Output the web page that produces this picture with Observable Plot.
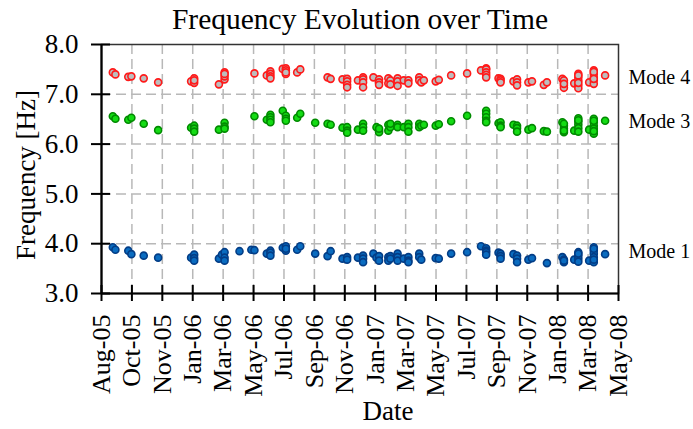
<!DOCTYPE html>
<html>
<head>
<meta charset="utf-8">
<script src="https://cdn.jsdelivr.net/npm/d3@7"></script>
<script src="https://cdn.jsdelivr.net/npm/@observablehq/plot@0.6"></script>
<style>
  html, body { margin: 0; padding: 0; background: #fff; }
  #chart svg { display: block; }
</style>
</head>
<body>
<div id="chart"></div>
<script>
// ---- Data ----
const xStart = "2005-08-01";
const xEnd = "2008-05-01";
const xTickLabels = ["Aug-05","Oct-05","Nov-05","Jan-06","Mar-06","May-06","Jul-06","Sep-06","Nov-06",
  "Jan-07","Mar-07","May-07","Jul-07","Sep-07","Nov-07","Jan-08","Mar-08","May-08"];
const yTicks = [3, 4, 5, 6, 7, 8];
const modeNames = ["Mode 4", "Mode 3", "Mode 1"];
const modeLabelValues = [7.34, 6.45, 3.84];

const mode4 = [
  ["2005-08-23",7.44],["2005-08-28",7.40],["2005-09-22",7.35],["2005-09-28",7.36],["2005-10-22",7.32],["2005-11-19",7.24],
  ["2006-01-22",7.26],["2006-01-28",7.32],["2006-01-28",7.23],["2006-01-28",7.28],
  ["2006-03-17",7.20],["2006-03-28",7.30],["2006-03-28",7.36],["2006-03-28",7.44],["2006-03-28",7.41],
  ["2006-05-25",7.42],
  ["2006-06-18",7.38],["2006-06-25",7.46],["2006-06-25",7.41],["2006-06-25",7.36],["2006-06-25",7.32],
  ["2006-07-19",7.51],["2006-07-25",7.52],["2006-07-25",7.48],["2006-07-25",7.41],["2006-07-25",7.44],
  ["2006-08-16",7.44],["2006-08-22",7.50],
  ["2006-10-14",7.34],["2006-10-20",7.31],
  ["2006-11-12",7.30],["2006-11-21",7.31],["2006-11-21",7.26],["2006-11-21",7.19],["2006-11-21",7.14],
  ["2006-12-12",7.28],["2006-12-22",7.34],["2006-12-22",7.30],["2006-12-22",7.24],["2006-12-22",7.14],
  ["2007-01-11",7.34],["2007-01-22",7.30],["2007-01-22",7.24],["2007-01-22",7.19],
  ["2007-02-09",7.32],["2007-02-09",7.22],["2007-02-13",7.28],["2007-02-13",7.20],
  ["2007-02-27",7.32],["2007-02-27",7.26],["2007-02-27",7.17],
  ["2007-03-11",7.28],["2007-03-20",7.28],["2007-03-20",7.22],
  ["2007-04-10",7.34],["2007-04-10",7.28],["2007-04-14",7.24],["2007-04-19",7.28],
  ["2007-05-12",7.26],["2007-05-18",7.29],["2007-06-11",7.38],["2007-07-12",7.42],
  ["2007-08-08",7.48],["2007-08-18",7.52],["2007-08-18",7.50],["2007-08-18",7.44],["2007-08-18",7.39],["2007-08-18",7.34],
  ["2007-09-11",7.32],["2007-09-15",7.31],["2007-09-15",7.28],["2007-09-15",7.24],
  ["2007-10-10",7.26],["2007-10-17",7.30],["2007-10-17",7.24],["2007-10-17",7.18],
  ["2007-11-08",7.24],["2007-11-15",7.26],
  ["2007-12-08",7.19],["2007-12-14",7.24],
  ["2008-01-13",7.31],["2008-01-16",7.24],["2008-01-16",7.18],["2008-01-16",7.13],["2008-01-16",7.28],["2008-01-16",7.21],
  ["2008-02-05",7.22],["2008-02-13",7.41],["2008-02-13",7.34],["2008-02-13",7.28],["2008-02-13",7.18],["2008-02-13",7.12],["2008-02-13",7.38],["2008-02-13",7.23],
  ["2008-03-05",7.24],["2008-03-14",7.48],["2008-03-14",7.41],["2008-03-14",7.34],["2008-03-14",7.28],["2008-03-14",7.21],["2008-03-14",7.45],["2008-03-14",7.31],
  ["2008-04-05",7.38]
];

const mode3 = [
  ["2005-08-23",6.56],["2005-08-28",6.51],["2005-09-22",6.49],["2005-09-28",6.53],["2005-10-22",6.41],["2005-11-19",6.28],
  ["2006-01-22",6.33],["2006-01-28",6.37],["2006-01-28",6.31],["2006-01-28",6.25],
  ["2006-03-17",6.29],["2006-03-28",6.43],["2006-03-28",6.35],["2006-03-28",6.31],
  ["2006-05-25",6.56],
  ["2006-06-18",6.49],["2006-06-25",6.59],["2006-06-25",6.54],["2006-06-25",6.49],["2006-06-25",6.44],
  ["2006-07-19",6.67],["2006-07-25",6.57],["2006-07-25",6.51],["2006-07-25",6.47],
  ["2006-08-16",6.53],["2006-08-22",6.61],
  ["2006-09-20",6.43],
  ["2006-10-14",6.41],["2006-10-20",6.39],
  ["2006-11-12",6.33],["2006-11-21",6.34],["2006-11-21",6.27],["2006-11-21",6.23],
  ["2006-12-12",6.29],["2006-12-22",6.41],["2006-12-22",6.34],["2006-12-22",6.27],
  ["2007-01-17",6.34],["2007-01-22",6.27],["2007-01-22",6.24],["2007-01-22",6.31],
  ["2007-02-09",6.39],["2007-02-09",6.27],["2007-02-13",6.34],["2007-02-13",6.41],
  ["2007-02-27",6.39],["2007-02-27",6.34],
  ["2007-03-11",6.34],["2007-03-20",6.41],["2007-03-20",6.34],["2007-03-20",6.25],
  ["2007-04-10",6.41],["2007-04-10",6.34],["2007-04-14",6.37],["2007-04-19",6.39],
  ["2007-05-12",6.37],["2007-05-18",6.40],["2007-06-11",6.46],["2007-07-12",6.57],
  ["2007-08-18",6.67],["2007-08-18",6.61],["2007-08-18",6.54],["2007-08-18",6.47],["2007-08-18",6.44],
  ["2007-09-11",6.42],["2007-09-15",6.44],["2007-09-15",6.37],["2007-09-15",6.34],
  ["2007-10-10",6.39],["2007-10-17",6.37],["2007-10-17",6.32],["2007-10-17",6.25],
  ["2007-11-08",6.29],["2007-11-15",6.32],
  ["2007-12-08",6.26],["2007-12-14",6.25],
  ["2008-01-13",6.44],["2008-01-16",6.37],["2008-01-16",6.31],["2008-01-16",6.24],["2008-01-16",6.41],["2008-01-16",6.27],
  ["2008-02-05",6.27],["2008-02-13",6.52],["2008-02-13",6.45],["2008-02-13",6.39],["2008-02-13",6.32],["2008-02-13",6.25],["2008-02-13",6.48],
  ["2008-03-05",6.29],["2008-03-14",6.51],["2008-03-14",6.44],["2008-03-14",6.37],["2008-03-14",6.31],["2008-03-14",6.21],["2008-03-14",6.47],["2008-03-14",6.26],
  ["2008-04-05",6.47]
];

const mode1 = [
  ["2005-08-23",3.93],["2005-08-28",3.88],["2005-09-22",3.86],["2005-09-28",3.79],["2005-10-22",3.76],["2005-11-19",3.72],
  ["2006-01-22",3.72],["2006-01-28",3.78],["2006-01-28",3.71],["2006-01-28",3.66],
  ["2006-03-17",3.70],["2006-03-23",3.78],["2006-03-28",3.83],["2006-03-28",3.72],["2006-03-28",3.66],
  ["2006-04-26",3.85],["2006-05-19",3.88],["2006-05-25",3.87],
  ["2006-06-18",3.80],["2006-06-25",3.86],["2006-06-25",3.82],["2006-06-25",3.76],
  ["2006-07-19",3.92],["2006-07-25",3.95],["2006-07-25",3.86],["2006-07-25",3.90],
  ["2006-08-16",3.88],["2006-08-22",3.95],
  ["2006-09-20",3.80],
  ["2006-10-14",3.75],["2006-10-20",3.85],
  ["2006-11-12",3.70],["2006-11-21",3.73],["2006-11-21",3.68],
  ["2006-12-12",3.72],["2006-12-22",3.76],["2006-12-22",3.70],["2006-12-22",3.63],
  ["2007-01-11",3.80],["2007-01-17",3.72],["2007-01-22",3.75],["2007-01-22",3.66],
  ["2007-02-09",3.73],["2007-02-09",3.66],["2007-02-13",3.75],["2007-02-13",3.70],
  ["2007-02-27",3.80],["2007-02-27",3.73],["2007-02-27",3.66],
  ["2007-03-11",3.70],["2007-03-20",3.73],["2007-03-20",3.66],["2007-03-20",3.63],
  ["2007-04-10",3.80],["2007-04-10",3.73],["2007-04-14",3.68],
  ["2007-05-12",3.71],["2007-05-18",3.70],["2007-06-11",3.80],["2007-07-12",3.83],
  ["2007-08-08",3.95],["2007-08-18",3.91],["2007-08-18",3.86],["2007-08-18",3.83],["2007-08-18",3.78],
  ["2007-09-11",3.82],["2007-09-15",3.80],["2007-09-15",3.75],["2007-09-15",3.70],
  ["2007-10-10",3.79],["2007-10-17",3.76],["2007-10-17",3.70],["2007-10-17",3.63],
  ["2007-11-08",3.68],["2007-11-15",3.71],
  ["2007-12-14",3.61],
  ["2008-01-13",3.73],["2008-01-16",3.68],["2008-01-16",3.63],["2008-01-16",3.66],
  ["2008-02-05",3.68],["2008-02-13",3.83],["2008-02-13",3.76],["2008-02-13",3.70],["2008-02-13",3.64],["2008-02-13",3.80],
  ["2008-03-05",3.66],["2008-03-14",3.93],["2008-03-14",3.86],["2008-03-14",3.80],["2008-03-14",3.73],["2008-03-14",3.63],["2008-03-14",3.90],["2008-03-14",3.68],
  ["2008-04-05",3.79]
];

// ---- Build ----
const parse = d3.utcParse("%Y-%m-%d");
const t0 = parse(xStart), t1 = parse(xEnd);
const xTicks = xTickLabels.map((_, i) => new Date(+t0 + i * (t1 - t0) / (xTickLabels.length - 1)));
const labelByTime = new Map(xTicks.map((d, i) => [+d, xTickLabels[i]]));
const toRows = (arr) => arr.map(([d, v]) => ({date: parse(d), value: v}));
const rows4 = toRows(mode4), rows3 = toRows(mode3), rows1 = toRows(mode1);

const W = 693, H = 429;
const mL = 101, mR = 75, mT = 44, mB = 136;
const innerW = W - mL - mR, innerH = H - mT - mB;
const FONT = "'Liberation Serif', 'Times New Roman', serif";
const gridStyle = {stroke: "#b8b8b8", strokeOpacity: 1, strokeWidth: 1.5, strokeDasharray: "10,5"};

const chart = Plot.plot({
  width: W,
  height: H,
  marginLeft: mL, marginRight: mR, marginTop: mT, marginBottom: mB,
  style: {fontFamily: FONT, fontSize: "27px", background: "#fff", color: "#000"},
  x: {type: "utc", domain: [t0, t1]},
  y: {domain: [3, 8]},
  marks: [
    Plot.gridX(xTicks.slice(1, -1), gridStyle),
    Plot.gridY(yTicks.slice(1, -1), gridStyle),
    Plot.frame({stroke: "#333", strokeWidth: 1.5}),
    Plot.ruleX([t0], {stroke: "#000", strokeWidth: 2.2}),
    Plot.ruleY([3], {stroke: "#000", strokeWidth: 2.2}),
    // crossing tick marks
    Plot.ruleX(xTicks, {stroke: "#000", strokeWidth: 2, insetTop: innerH - 8, insetBottom: -8}),
    Plot.ruleY(yTicks, {stroke: "#000", strokeWidth: 2, insetLeft: -10, insetRight: innerW - 9}),
    Plot.axisX(xTicks, {
      tickSize: 0, tickPadding: 21, tickRotate: -90,
      tickFormat: d => labelByTime.get(+d), fontSize: 26, fontFamily: FONT, label: null
    }),
    Plot.axisY(yTicks, {
      tickSize: 0, tickPadding: 23, tickFormat: d3.format(".1f"),
      fontSize: 27, fontFamily: FONT, label: null
    }),
    Plot.dot(rows4, {x: "date", y: "value", r: 3.5, fill: "#bdbdbd", stroke: "#ff1a1a", strokeWidth: 1.6}),
    Plot.dot(rows3, {x: "date", y: "value", r: 3.5, fill: "#14dc14", stroke: "#008a00", strokeWidth: 1.6}),
    Plot.dot(rows1, {x: "date", y: "value", r: 3.5, fill: "#0a6cc0", stroke: "#033d86", strokeWidth: 1.6}),
    Plot.text(modeNames, {x: t1, y: (d, i) => modeLabelValues[i], text: d => d, textAnchor: "start", dx: 10, fontSize: 20, fontFamily: FONT, fill: "#000"}),
    Plot.text(["Frequency Evolution over Time"], {frameAnchor: "top", lineAnchor: "middle", dy: -25, fontSize: 29.5, fontFamily: FONT, fill: "#000"}),
    Plot.text(["Frequency [Hz]"], {frameAnchor: "left", textAnchor: "middle", lineAnchor: "middle", rotate: -90, dx: -75, dy: 6, fontSize: 27, fontFamily: FONT, fill: "#000"}),
    Plot.text(["Date"], {frameAnchor: "bottom", lineAnchor: "middle", dx: 28, dy: 118, fontSize: 27, fontFamily: FONT, fill: "#000"})
  ]
});
document.getElementById("chart").appendChild(chart);
</script>
</body>
</html>
